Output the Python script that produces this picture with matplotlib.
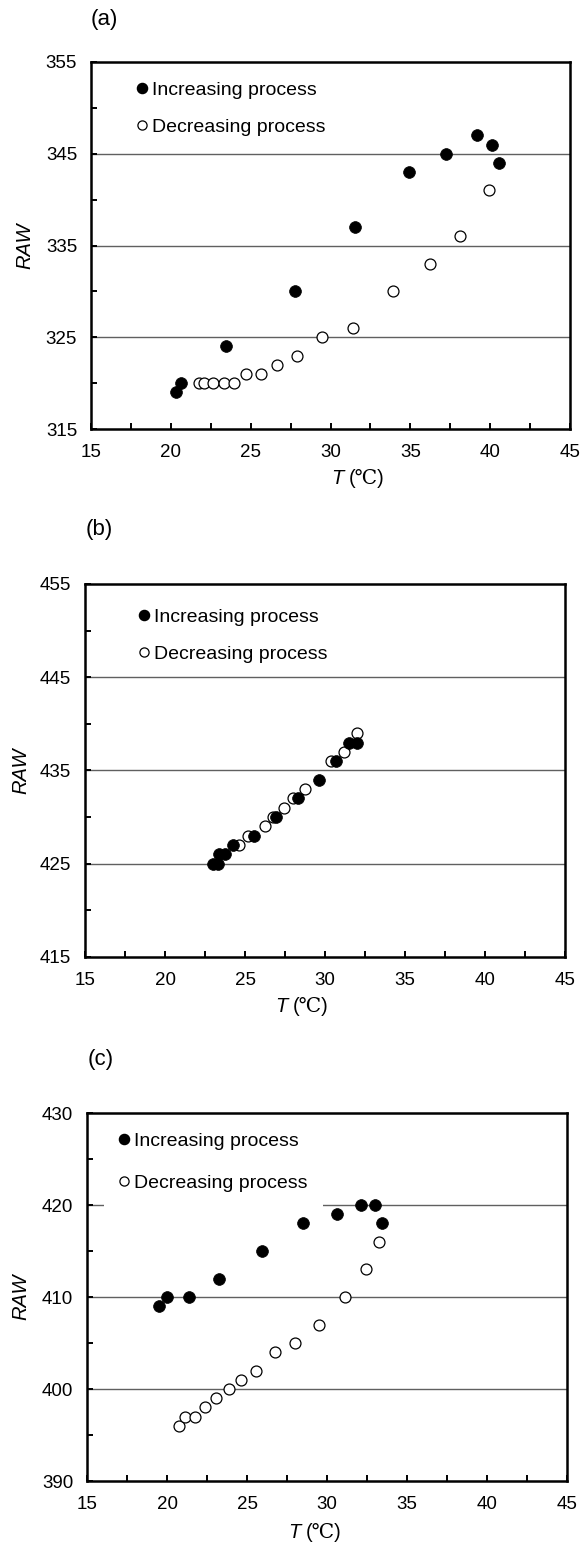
import matplotlib
matplotlib.use('Agg')
import matplotlib.pyplot as plt
from matplotlib.lines import Line2D

plt.rcParams['font.family'] = ['Liberation Sans', 'DejaVu Sans']

# (a)
a_inc_t = [20.32, 20.63, 23.43, 27.75, 31.52, 34.92, 37.22, 39.16, 40.14, 40.56]
a_inc_raw = [319, 320, 324, 330, 337, 343, 345, 347, 346, 344]
a_dec_t = [21.78, 22.09, 22.62, 23.30, 23.93, 24.72, 25.62, 26.62, 27.91, 29.44,
           31.42, 33.90, 36.24, 38.14, 39.95]
a_dec_raw = [320, 320, 320, 320, 320, 321, 321, 322, 323, 325, 326, 330, 333, 336, 341]

# (b)
b_inc_t = [23.00, 23.30, 23.37, 23.78, 24.24, 25.58, 26.92, 28.32, 29.64, 30.69, 31.53, 31.97]
b_inc_raw = [425, 425, 426, 426, 427, 428, 430, 432, 434, 436, 438, 438]
b_dec_t = [24.65, 25.16, 26.26, 26.75, 27.43, 27.99, 28.77, 30.40, 31.20, 32.00]
b_dec_raw = [427, 428, 429, 430, 431, 432, 433, 436, 437, 439]

# (c)
c_inc_t = [19.53, 20.01, 21.35, 23.25, 25.92, 28.53, 30.62, 32.12, 33.02, 33.41]
c_inc_raw = [409, 410, 410, 412, 415, 418, 419, 420, 420, 418]
c_dec_t = [20.74, 21.14, 21.74, 22.35, 23.04, 23.85, 24.62, 25.54, 26.75, 28.03,
           29.53, 31.12, 32.41, 33.23]
c_dec_raw = [396, 397, 397, 398, 399, 400, 401, 402, 404, 405, 407, 410, 413, 416]

legend_labels = ['Increasing process', 'Decreasing process']

# layout per panel, in pixels: axes box (l, r, t, b), panel label (x, y),
# legend (marker x, first row y, row step, borderpad), x label (x, y), RAW label x
panels = [
    dict(name='(a)', inc=(a_inc_t, a_inc_raw), dec=(a_dec_t, a_dec_raw), ylim=(315, 355),
         box=(91, 570, 62, 429), lab=(91, 20), leg=(142, 91, 38, 0.2), xl=(344, 478), yl=25),
    dict(name='(b)', inc=(b_inc_t, b_inc_raw), dec=(b_dec_t, b_dec_raw), ylim=(415, 455),
         box=(85, 565, 584, 957), lab=(86, 530), leg=(144, 618, 38, 0.2), xl=(288, 1006), yl=21),
    dict(name='(c)', inc=(c_inc_t, c_inc_raw), dec=(c_dec_t, c_dec_raw), ylim=(390, 430),
         box=(87, 567, 1113, 1481), lab=(88, 1060), leg=(124, 1142, 43, 0.8), xl=(301, 1533), yl=21),
]

W, H = 582, 1544
FS = 13.5      # tick labels
LFS = 14       # legend text
fig = plt.figure(figsize=(W / 100, H / 100), dpi=100)

for p in panels:
    l, r, t, b = p['box']
    ylo, yhi = p['ylim']
    ax = fig.add_axes([l / W, 1 - b / H, (r - l) / W, (b - t) / H])
    ax.set_xlim(15, 45)
    ax.set_ylim(ylo, yhi)
    for y in range(ylo + 10, yhi, 10):
        ax.axhline(y, color='#606060', lw=1.0, zorder=1)
    ax.scatter(*p['dec'], s=62, facecolors='white', edgecolors='black', linewidths=0.9, zorder=3)
    ax.scatter(*p['inc'], s=72, facecolors='black', edgecolors='black', linewidths=0.5, zorder=4)

    ax.set_xticks(range(15, 46, 5))
    ax.set_xticks([x + 2.5 for x in range(15, 45, 5)], minor=True)
    ax.set_yticks(range(ylo, yhi + 1, 10))
    ax.set_yticks(range(ylo + 5, yhi, 10), minor=True)
    ax.tick_params(which='both', direction='in', length=4, width=1.4,
                   labelsize=FS, top=False, right=False)
    ax.tick_params(axis='x', pad=11)
    ax.tick_params(axis='y', pad=10)
    for sp in ax.spines.values():
        sp.set_linewidth(1.8)

    # legend placed so marker centre and first row land where the reference has them
    mx, ry, step, bp = p['leg']
    fs_px = LFS * 100 / 72
    row_h = 0.98 * fs_px
    hl = 0.5
    ax_x = (mx - bp * fs_px - hl * fs_px / 2 - l) / (r - l)
    ax_y = 1 - (ry - bp * fs_px - row_h / 2 - t) / (b - t)
    handles = [
        Line2D([], [], ls='none', marker='o', ms=7.3, mfc='black', mec='black'),
        Line2D([], [], ls='none', marker='o', ms=6.6, mfc='white', mec='black', mew=0.9),
    ]
    leg = ax.legend(handles, legend_labels, loc='upper left', bbox_to_anchor=(ax_x, ax_y),
                    fontsize=LFS, handlelength=hl, handletextpad=0.28,
                    labelspacing=(step - row_h) / fs_px, borderpad=bp, borderaxespad=0,
                    frameon=True, fancybox=False)
    leg.get_frame().set_facecolor('white')
    leg.get_frame().set_edgecolor('none')
    leg.get_frame().set_alpha(1)
    leg.set_zorder(5)

    fig.text(p['yl'] / W, 1 - (t + b) / 2 / H, 'RAW', style='italic', fontsize=14.5,
             rotation=90, ha='center', va='center')
    xlx, xly = p['xl']
    fig.text((xlx - 1) / W, 1 - xly / H, 'T', style='italic', fontsize=14.5,
             ha='right', va='center')
    fig.text((xlx + 5) / W, 1 - xly / H, '(℃)', fontsize=14.5,
             ha='left', va='center', family=['Liberation Sans', 'DejaVu Serif'])

    fig.text(p['lab'][0] / W, 1 - p['lab'][1] / H, p['name'], fontsize=16, ha='left', va='center')

fig.savefig('out.png', dpi=100)
